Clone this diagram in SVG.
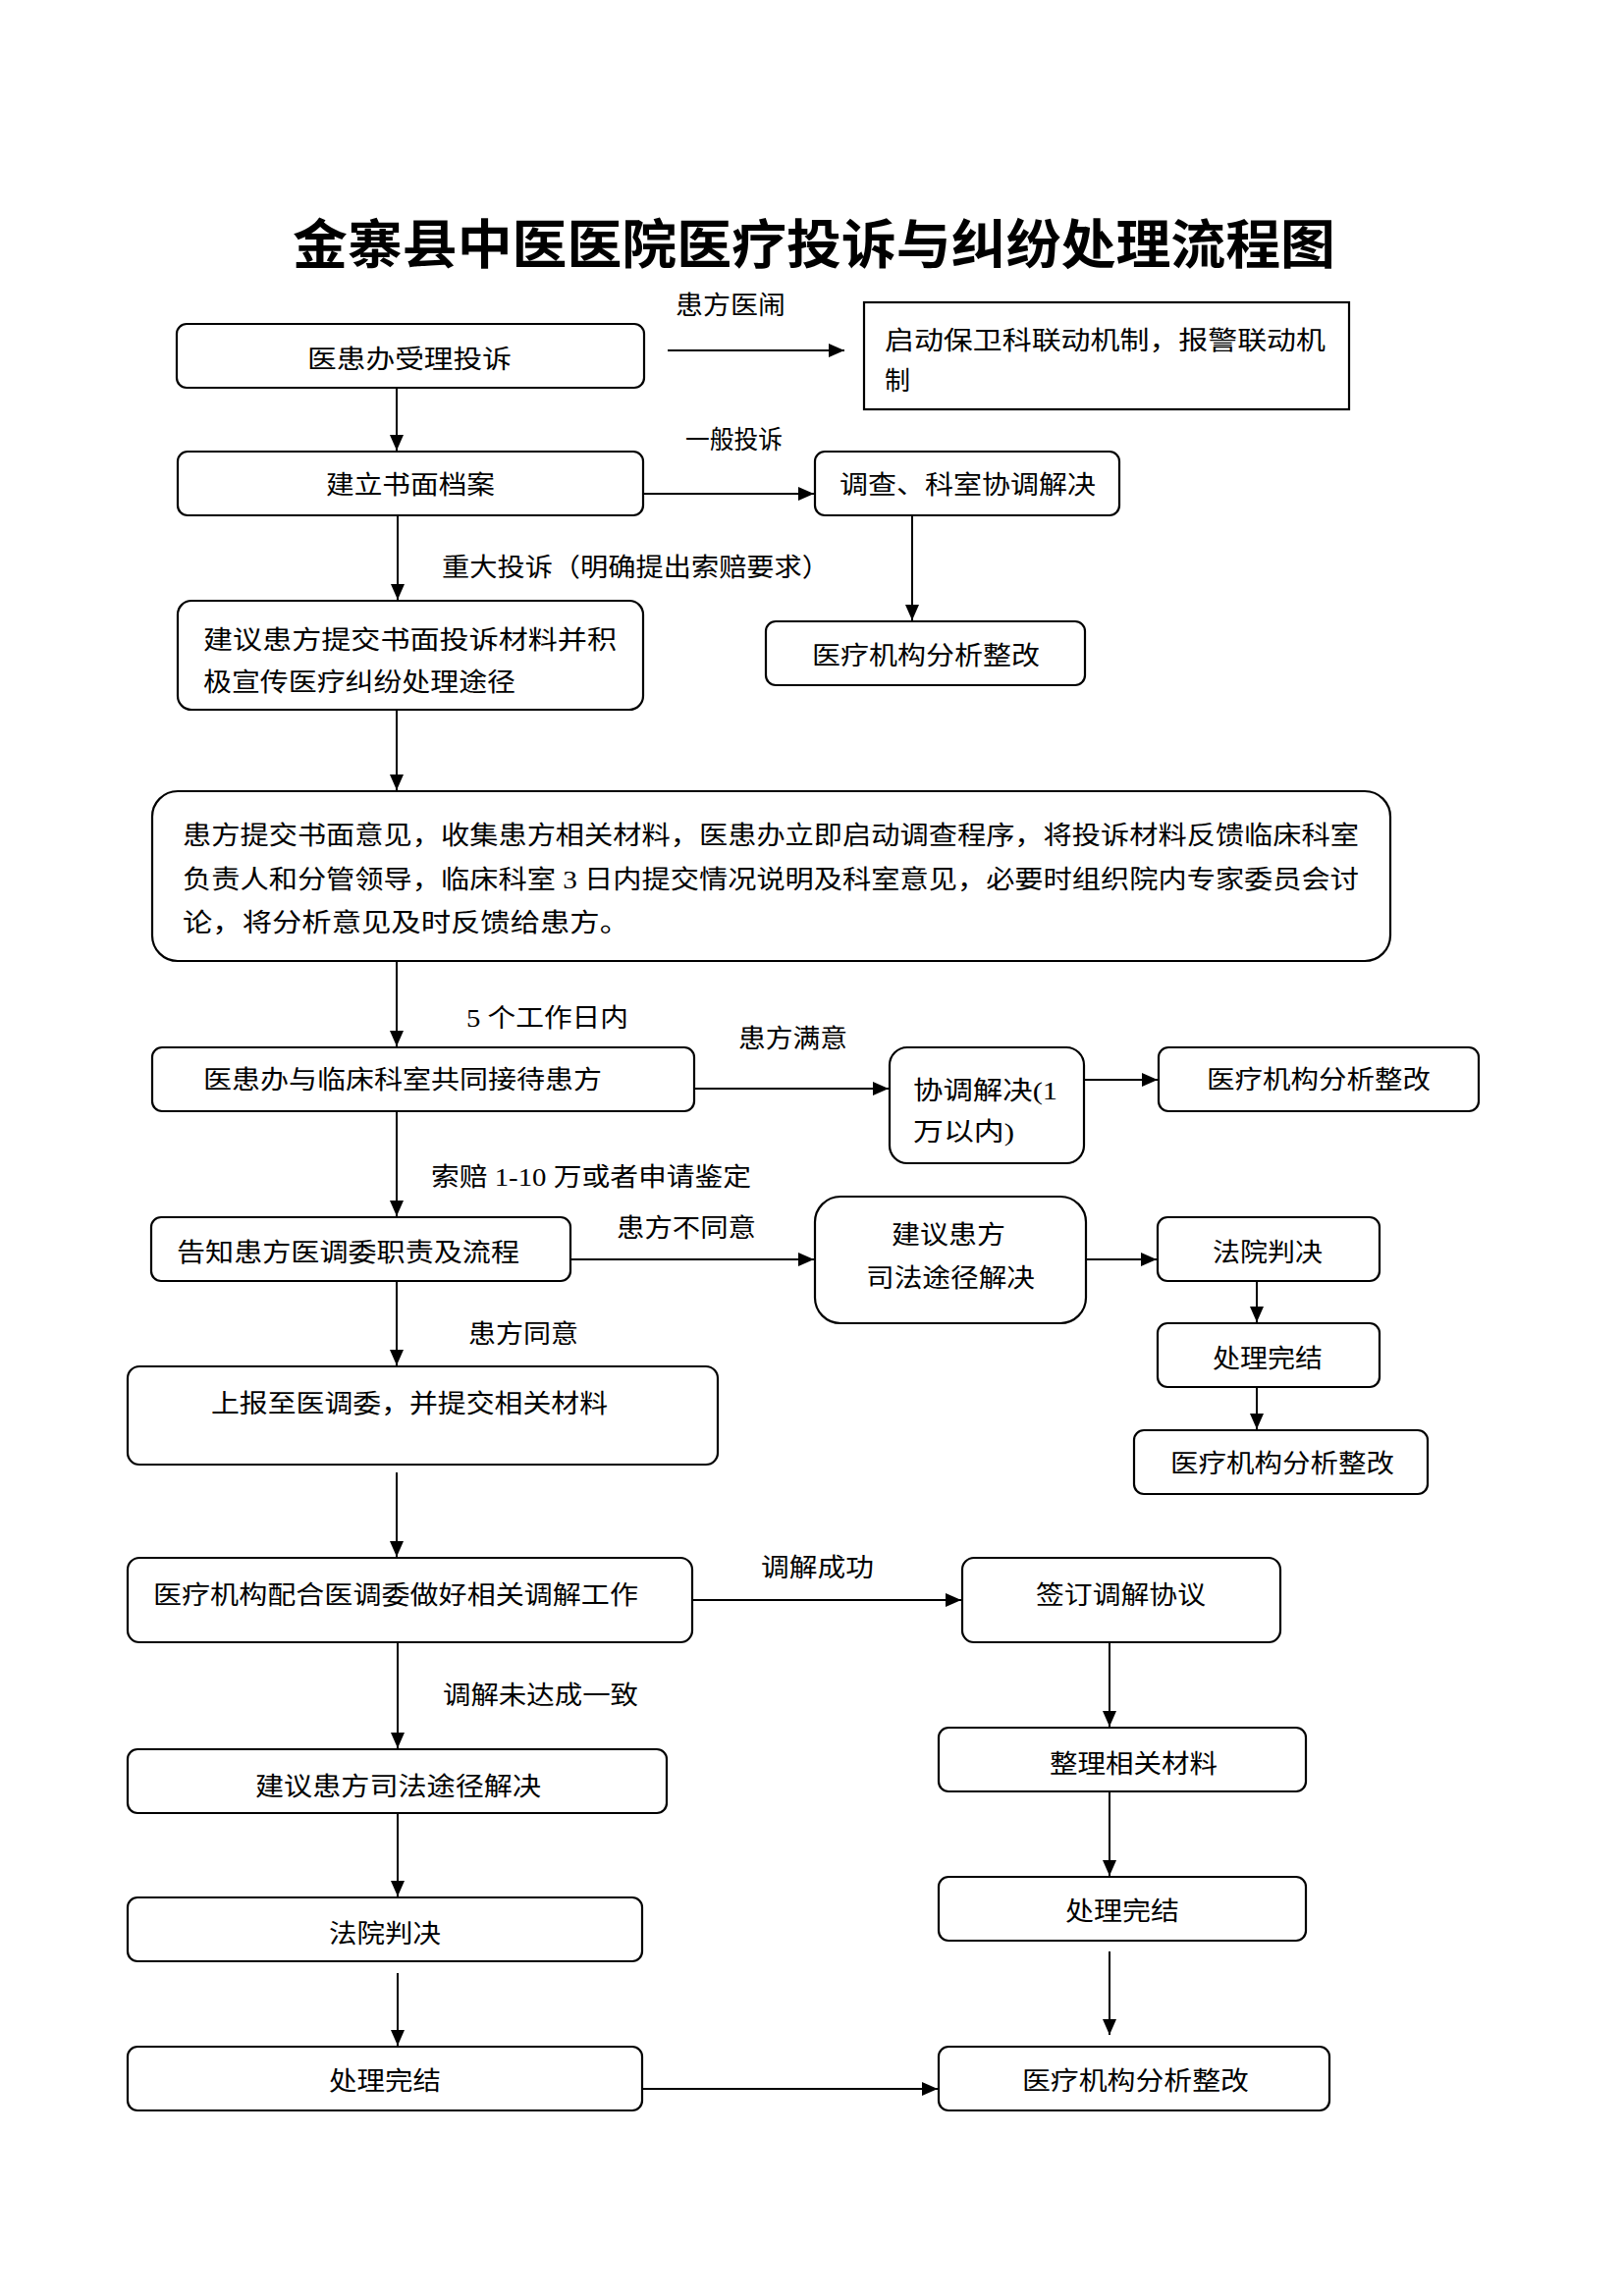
<svg xmlns="http://www.w3.org/2000/svg" width="1654" height="2339" viewBox="0 0 1654 2339">
<style>
.n{fill:#fff;stroke:#000;stroke-width:2.2}
.t{font-family:"Liberation Serif","Noto Sans CJK SC",serif;font-size:26px;fill:#000;dominant-baseline:central}
.l{font-family:"Liberation Serif","Noto Sans CJK SC",serif;font-size:26px;fill:#000;dominant-baseline:central}
.title{font-family:"Noto Sans CJK SC",sans-serif;font-size:54px;font-weight:700;fill:#000;dominant-baseline:central}
.c{fill:none;stroke:#000;stroke-width:2}
</style>
<defs>
<marker id="a" markerUnits="userSpaceOnUse" markerWidth="16" markerHeight="14" refX="16" refY="7" orient="auto">
<path d="M0,0 L16,7 L0,14 z" fill="#000"/>
</marker>
</defs>
<rect width="1654" height="2339" fill="#fff"/>
<text class="title" x="298" y="245" textLength="1062" lengthAdjust="spacingAndGlyphs">金寨县中医医院医疗投诉与纠纷处理流程图</text>

<g id="connectors">
<line class="c" x1="680" y1="357" x2="860" y2="357" marker-end="url(#a)"/>
<line class="c" x1="404" y1="395" x2="404" y2="459" marker-end="url(#a)"/>
<line class="c" x1="655" y1="503" x2="829" y2="503" marker-end="url(#a)"/>
<line class="c" x1="929" y1="525" x2="929" y2="632" marker-end="url(#a)"/>
<line class="c" x1="405" y1="525" x2="405" y2="611" marker-end="url(#a)"/>
<line class="c" x1="404" y1="723" x2="404" y2="805" marker-end="url(#a)"/>
<line class="c" x1="404" y1="979" x2="404" y2="1066" marker-end="url(#a)"/>
<line class="c" x1="707" y1="1109" x2="905" y2="1109" marker-end="url(#a)"/>
<line class="c" x1="1104" y1="1100" x2="1179" y2="1100" marker-end="url(#a)"/>
<line class="c" x1="404" y1="1132" x2="404" y2="1239" marker-end="url(#a)"/>
<line class="c" x1="581" y1="1283" x2="829" y2="1283" marker-end="url(#a)"/>
<line class="c" x1="1106" y1="1283" x2="1178" y2="1283" marker-end="url(#a)"/>
<line class="c" x1="1280" y1="1305" x2="1280" y2="1347" marker-end="url(#a)"/>
<line class="c" x1="1280" y1="1413" x2="1280" y2="1456" marker-end="url(#a)"/>
<line class="c" x1="404" y1="1305" x2="404" y2="1391" marker-end="url(#a)"/>
<line class="c" x1="404" y1="1500" x2="404" y2="1586" marker-end="url(#a)"/>
<line class="c" x1="705" y1="1630" x2="979" y2="1630" marker-end="url(#a)"/>
<line class="c" x1="1130" y1="1673" x2="1130" y2="1759" marker-end="url(#a)"/>
<line class="c" x1="405" y1="1673" x2="405" y2="1781" marker-end="url(#a)"/>
<line class="c" x1="405" y1="1847" x2="405" y2="1932" marker-end="url(#a)"/>
<line class="c" x1="405" y1="2010" x2="405" y2="2084" marker-end="url(#a)"/>
<line class="c" x1="653" y1="2128" x2="955" y2="2128" marker-end="url(#a)"/>
<line class="c" x1="1130" y1="1825" x2="1130" y2="1911" marker-end="url(#a)"/>
<line class="c" x1="1130" y1="1988" x2="1130" y2="2073" marker-end="url(#a)"/>
<text class="l" x="688" y="311" textLength="112" lengthAdjust="spacingAndGlyphs">患方医闹</text>
<text class="l" x="698" y="448" textLength="99" lengthAdjust="spacingAndGlyphs">一般投诉</text>
<text class="l" x="450" y="578" textLength="395" lengthAdjust="spacingAndGlyphs">重大投诉（明确提出索赔要求）</text>
<text class="l" x="475" y="1037" textLength="165" lengthAdjust="spacingAndGlyphs">5 个工作日内</text>
<text class="l" x="752" y="1058" textLength="111" lengthAdjust="spacingAndGlyphs">患方满意</text>
<text class="l" x="439" y="1199" textLength="326" lengthAdjust="spacingAndGlyphs">索赔 1-10 万或者申请鉴定</text>
<text class="l" x="628" y="1251" textLength="142" lengthAdjust="spacingAndGlyphs">患方不同意</text>
<text class="l" x="477" y="1359" textLength="112" lengthAdjust="spacingAndGlyphs">患方同意</text>
<text class="l" x="775" y="1597" textLength="115" lengthAdjust="spacingAndGlyphs">调解成功</text>
<text class="l" x="451" y="1727" textLength="199" lengthAdjust="spacingAndGlyphs">调解未达成一致</text>
</g>

<g id="n1"><rect class="n" x="180" y="330" width="476" height="65" rx="10"/>
<text class="t" x="313" y="366" textLength="208" lengthAdjust="spacingAndGlyphs">医患办受理投诉</text></g>
<g id="n2"><rect class="n" x="880" y="308" width="494" height="109"/>
<text class="t" x="901" y="347" textLength="449" lengthAdjust="spacingAndGlyphs">启动保卫科联动机制，报警联动机</text>
<text class="t" x="901" y="388">制</text></g>
<g id="n3"><rect class="n" x="181" y="460" width="474" height="65" rx="10"/>
<text class="t" x="332" y="494" textLength="172" lengthAdjust="spacingAndGlyphs">建立书面档案</text></g>
<g id="n4"><rect class="n" x="830" y="460" width="310" height="65" rx="10"/>
<text class="t" x="855" y="494" textLength="261" lengthAdjust="spacingAndGlyphs">调查、科室协调解决</text></g>
<g id="n5"><rect class="n" x="780" y="633" width="325" height="65" rx="10"/>
<text class="t" x="827" y="668" textLength="232" lengthAdjust="spacingAndGlyphs">医疗机构分析整改</text></g>
<g id="n6"><rect class="n" x="181" y="612" width="474" height="111" rx="14"/>
<text class="t" x="207" y="652" textLength="421" lengthAdjust="spacingAndGlyphs">建议患方提交书面投诉材料并积</text>
<text class="t" x="207" y="695" textLength="318" lengthAdjust="spacingAndGlyphs">极宣传医疗纠纷处理途径</text></g>
<g id="n7"><rect class="n" x="155" y="806" width="1261" height="173" rx="26"/>
<text class="t" x="186" y="851" textLength="1198" lengthAdjust="spacingAndGlyphs">患方提交书面意见，收集患方相关材料，医患办立即启动调查程序，将投诉材料反馈临床科室</text>
<text class="t" x="186" y="896" textLength="1198" lengthAdjust="spacingAndGlyphs">负责人和分管领导，临床科室 3 日内提交情况说明及科室意见，必要时组织院内专家委员会讨</text>
<text class="t" x="186" y="940" textLength="455" lengthAdjust="spacingAndGlyphs">论，将分析意见及时反馈给患方。</text></g>
<g id="n8"><rect class="n" x="155" y="1067" width="552" height="65" rx="10"/>
<text class="t" x="207" y="1100" textLength="406" lengthAdjust="spacingAndGlyphs">医患办与临床科室共同接待患方</text></g>
<g id="n9"><rect class="n" x="906" y="1067" width="198" height="118" rx="18"/>
<text class="t" x="930" y="1111" textLength="147" lengthAdjust="spacingAndGlyphs">协调解决(1</text>
<text class="t" x="930" y="1153" textLength="103" lengthAdjust="spacingAndGlyphs">万以内)</text></g>
<g id="n10"><rect class="n" x="1180" y="1067" width="326" height="65" rx="10"/>
<text class="t" x="1229" y="1100" textLength="228" lengthAdjust="spacingAndGlyphs">医疗机构分析整改</text></g>
<g id="n11"><rect class="n" x="154" y="1240" width="427" height="65" rx="10"/>
<text class="t" x="180" y="1276" textLength="349" lengthAdjust="spacingAndGlyphs">告知患方医调委职责及流程</text></g>
<g id="n12"><rect class="n" x="830" y="1219" width="276" height="129" rx="26"/>
<text class="t" x="908" y="1258" textLength="116" lengthAdjust="spacingAndGlyphs">建议患方</text>
<text class="t" x="882" y="1302" textLength="172" lengthAdjust="spacingAndGlyphs">司法途径解决</text></g>
<g id="n13"><rect class="n" x="1179" y="1240" width="226" height="65" rx="10"/>
<text class="t" x="1235" y="1276" textLength="112" lengthAdjust="spacingAndGlyphs">法院判决</text></g>
<g id="n14"><rect class="n" x="1179" y="1348" width="226" height="65" rx="10"/>
<text class="t" x="1235" y="1384" textLength="112" lengthAdjust="spacingAndGlyphs">处理完结</text></g>
<g id="n15"><rect class="n" x="1155" y="1457" width="299" height="65" rx="10"/>
<text class="t" x="1192" y="1491" textLength="228" lengthAdjust="spacingAndGlyphs">医疗机构分析整改</text></g>
<g id="n16"><rect class="n" x="130" y="1392" width="601" height="100" rx="12"/>
<text class="t" x="215" y="1430" textLength="404" lengthAdjust="spacingAndGlyphs">上报至医调委，并提交相关材料</text></g>
<g id="n17"><rect class="n" x="130" y="1587" width="575" height="86" rx="12"/>
<text class="t" x="156" y="1625" textLength="494" lengthAdjust="spacingAndGlyphs">医疗机构配合医调委做好相关调解工作</text></g>
<g id="n18"><rect class="n" x="980" y="1587" width="324" height="86" rx="12"/>
<text class="t" x="1055" y="1625" textLength="173" lengthAdjust="spacingAndGlyphs">签订调解协议</text></g>
<g id="n19"><rect class="n" x="956" y="1760" width="374" height="65" rx="10"/>
<text class="t" x="1069" y="1797" textLength="171" lengthAdjust="spacingAndGlyphs">整理相关材料</text></g>
<g id="n20"><rect class="n" x="130" y="1782" width="549" height="65" rx="10"/>
<text class="t" x="260" y="1820" textLength="291" lengthAdjust="spacingAndGlyphs">建议患方司法途径解决</text></g>
<g id="n21"><rect class="n" x="130" y="1933" width="524" height="65" rx="10"/>
<text class="t" x="335" y="1970" textLength="114" lengthAdjust="spacingAndGlyphs">法院判决</text></g>
<g id="n22"><rect class="n" x="130" y="2085" width="524" height="65" rx="10"/>
<text class="t" x="335" y="2120" textLength="114" lengthAdjust="spacingAndGlyphs">处理完结</text></g>
<g id="n23"><rect class="n" x="956" y="1912" width="374" height="65" rx="10"/>
<text class="t" x="1085" y="1947" textLength="116" lengthAdjust="spacingAndGlyphs">处理完结</text></g>
<g id="n24"><rect class="n" x="956" y="2085" width="398" height="65" rx="10"/>
<text class="t" x="1041" y="2120" textLength="231" lengthAdjust="spacingAndGlyphs">医疗机构分析整改</text></g>
</svg>
